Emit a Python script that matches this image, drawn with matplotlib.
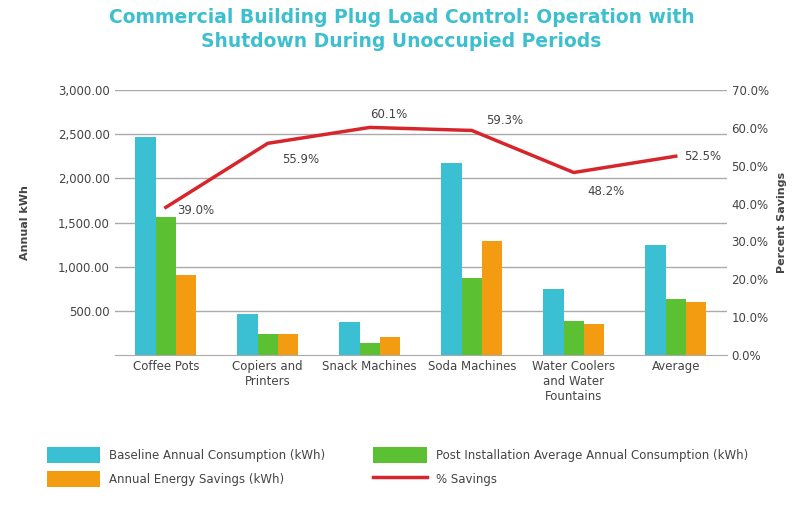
import numpy as np
import matplotlib
matplotlib.use("Agg")
import matplotlib.pyplot as plt
from matplotlib.ticker import FuncFormatter

categories = ["Coffee Pots", "Copiers and\nPrinters", "Snack Machines", "Soda Machines",
              "Water Coolers\nand Water\nFountains", "Average"]
baseline = [2468, 464, 374, 2174, 747, 1245]
post_install = [1562, 238, 136, 872, 385, 634]
savings = [906, 238, 204, 1290, 351, 600]
pct_savings = [39.0, 55.9, 60.1, 59.3, 48.2, 52.5]

c_base, c_post, c_save, c_line = "#3bbfd3", "#5cc132", "#f39c12", "#d7262b"
txt = "#444444"

fig = plt.figure(figsize=(8.03, 5.08), dpi=100)
ax = fig.add_axes([0.143, 0.301, 0.762, 0.522])
x = np.arange(len(categories))
w = 0.2
b1 = ax.bar(x - w, baseline, w, color=c_base, label="Baseline Annual Consumption (kWh)")
b2 = ax.bar(x, post_install, w, color=c_post, label="Post Installation Average Annual Consumption (kWh)")
b3 = ax.bar(x + w, savings, w, color=c_save, label="Annual Energy Savings (kWh)")
ax.set_ylim(0, 3000)
ax.set_xlim(-0.5, len(categories) - 0.5)
ax.set_yticks([500, 1000, 1500, 2000, 2500, 3000])
ax.yaxis.set_major_formatter(FuncFormatter(lambda v, p: f"{v:,.2f}"))
ax.grid(axis="y", color="#aaaaaa", lw=1)
ax.set_axisbelow(True)
for s in ["top", "right", "left"]:
    ax.spines[s].set_visible(False)
ax.spines["bottom"].set_color("#aaaaaa")
ax.tick_params(length=0, labelsize=8.5, colors=txt)
ax.set_xticks(x)
ax.set_xticklabels(categories, va="top")
ax.set_ylabel("Annual kWh", fontsize=8, fontweight="bold", color=txt, labelpad=20)

ax2 = ax.twinx()
ln, = ax2.plot(x, pct_savings, color=c_line, lw=2.5, label="% Savings")
ax2.set_ylim(0, 70)
ax2.set_yticks(np.arange(0, 71, 10))
ax2.yaxis.set_major_formatter(FuncFormatter(lambda v, p: f"{v:.1f}%"))
for s in ax2.spines.values():
    s.set_visible(False)
ax2.tick_params(length=0, labelsize=8.5, colors=txt)
ax2.set_ylabel("Percent Savings", fontsize=8, fontweight="bold", color=txt, labelpad=6)

offsets = [(8, -2), (10, -12), (0, 9), (10, 7), (10, -14), (6, 0)]
for xi, v, (dx, dy) in zip(x, pct_savings, offsets):
    ax2.annotate(f"{v:.1f}%", (xi, v), xytext=(dx, dy), textcoords="offset points",
                 fontsize=8.5, color=txt, va="center", ha="left")

handles = [b1, b3, b2, ln]
fig.legend(handles=handles, labels=[h.get_label() for h in handles],
           loc="lower left", bbox_to_anchor=(0.045, 0.02, 0.9, 0.15), ncol=2,
           mode="expand", frameon=False, fontsize=8.5, handlelength=4.5,
           handleheight=1.7, labelcolor=txt, columnspacing=3, labelspacing=0.7)

fig.suptitle("Commercial Building Plug Load Control: Operation with\nShutdown During Unoccupied Periods",
             y=0.985, fontsize=13.5, fontweight="bold", color="#3cbfcf", linespacing=1.35)
fig.savefig("out.png", dpi=100)
